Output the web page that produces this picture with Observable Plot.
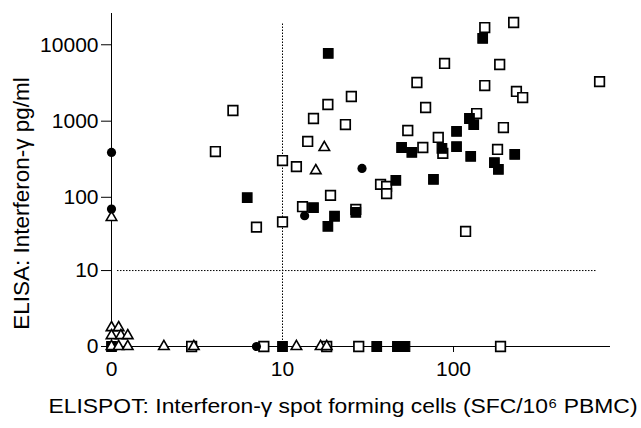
<!DOCTYPE html>
<html>
<head>
<meta charset="utf-8">
<script src="https://cdn.jsdelivr.net/npm/d3@7"></script>
<script src="https://cdn.jsdelivr.net/npm/@observablehq/plot@0.6"></script>
<style>
  html, body { margin: 0; padding: 0; background: white; }
  #chart svg { display: block; }
</style>
</head>
<body>
<div id="chart"></div>
<script>
// Tick values
const xTickValues = [0, 10, 100];
const yTickValues = [0, 10, 100, 1000, 10000];

// Axis titles
const xTitle = "ELISPOT: Interferon-γ spot forming cells (SFC/10\u2076 PBMC)";
const yTitle = "ELISA: Interferon-γ pg/ml";

// Open squares
const openSquareX = [2.25, 7.6, 18.6, 28.7, 184, 4.7, 3.5, 6.8, 10, 10, 12.2, 14.3, 15.5, 18.9, 24, 26, 19.6, 13.3, 27.6, 38.4, 41.6, 41.6, 55, 62, 67, 69.5, 82, 87, 89, 117, 135, 150, 150, 177, 182, 191, 218, 226, 245, 660];
const openSquareY = [0, 0, 0, 0, 0, 1380, 400, 40, 305, 47, 254, 542, 1084, 1654, 904, 2104, 106, 75, 69, 148, 139, 112, 755, 3208, 452, 1511, 612, 378, 5690, 35, 1260, 16800, 2930, 426, 5520, 826, 19560, 2450, 2040, 3300];

// Filled squares
const filledSquareX = [0, 10, 36.5, 48, 53, 19, 5.9, 47, 15.5, 20.7, 18.9, 27.6, 50.7, 58, 77, 86, 104, 104, 123, 125, 130, 146, 170, 179, 221];
const filledSquareY = [0, 0, 0, 0, 0, 7700, 99, 167, 73, 56, 41, 63, 452, 389, 172, 439, 733, 465, 1084, 345, 904, 12090, 287, 233, 366];

// Open triangles
const triangleX = [0, 18, 16, 0, 0.12, 0, 0.16, 0.29, 0, 0.12, 0.29, 1.2, 2.35, 12.2, 17.1, 18.6];
const triangleY = [54, 452, 225, 0.87, 0.87, 0.44, 0.44, 0.44, 0, 0, 0, 0, 0, 0, 0, 0];

// Filled circles
const circleX = [0, 0, 30, 13.7, 6.8];
const circleY = [390, 70, 240, 57, 0];

// Cut-off lines
const xCutoff = [10];
const yCutoff = [10];

const zip = (xs, ys) => xs.map((x, i) => ({x, y: ys[i]}));
const openSquares = zip(openSquareX, openSquareY);
const filledSquares = zip(filledSquareX, filledSquareY);
const triangles = zip(triangleX, triangleY);
const circles = zip(circleX, circleY);

const font = "'Liberation Sans', Arial, Helvetica, sans-serif";

const chart = Plot.plot({
  width: 641,
  height: 428,
  marginLeft: 111,
  marginRight: 32,
  marginTop: 13,
  marginBottom: 82,
  style: {fontFamily: font, fontSize: "21px", color: "black", background: "white"},
  x: {
    type: "symlog", constant: 1.25, domain: [0, 750],
    ticks: xTickValues, tickFormat: d => String(d),
    tickSize: 6, tickPadding: 9, line: true, label: null
  },
  y: {
    type: "symlog", constant: 1.13, domain: [0, 25650],
    ticks: yTickValues, tickFormat: d => String(d),
    tickSize: 10, tickPadding: 3, line: true, label: null
  },
  marks: [
    Plot.ruleX(xCutoff, {x: d => d, y1: 0, y2: 19000, stroke: "black", strokeWidth: 1, strokeDasharray: "1.5,1.5"}),
    Plot.ruleY(yCutoff, {y: d => d, x1: 0.1, x2: 640, stroke: "black", strokeWidth: 1, strokeDasharray: "1.5,1.5"}),
    Plot.dot(openSquares, {x: "x", y: "y", symbol: "square", r: 5.4, fill: "white", stroke: "black", strokeWidth: 1.7}),
    Plot.dot(filledSquares, {x: "x", y: "y", symbol: "square", r: 5.4, fill: "black", stroke: "black", strokeWidth: 1.2}),
    Plot.dot(triangles, {x: "x", y: "y", symbol: "triangle", r: 3.9, fill: "white", stroke: "black", strokeWidth: 1.6}),
    Plot.dot(circles, {x: "x", y: "y", symbol: "circle", r: 4.6, fill: "black", stroke: "none"}),
    Plot.text([yTitle], {
      frameAnchor: "left", rotate: -90, dx: -90, dy: 23.5, textAnchor: "middle",
      fontSize: 22.5, fontFamily: font, fill: "black", text: d => d
    }),
    Plot.text([xTitle], {
      frameAnchor: "bottom", dx: -17.5, dy: 66, textAnchor: "middle",
      fontSize: 20, fontFamily: font, fill: "black", text: d => d
    })
  ]
});
// Stretch the x title to the width it spans in the reference
d3.select(chart).selectAll("text").each(function() {
  if (this.textContent === xTitle) {
    d3.select(this).attr("textLength", 589).attr("lengthAdjust", "spacingAndGlyphs");
  }
});
document.getElementById("chart").appendChild(chart);
</script>
</body>
</html>
